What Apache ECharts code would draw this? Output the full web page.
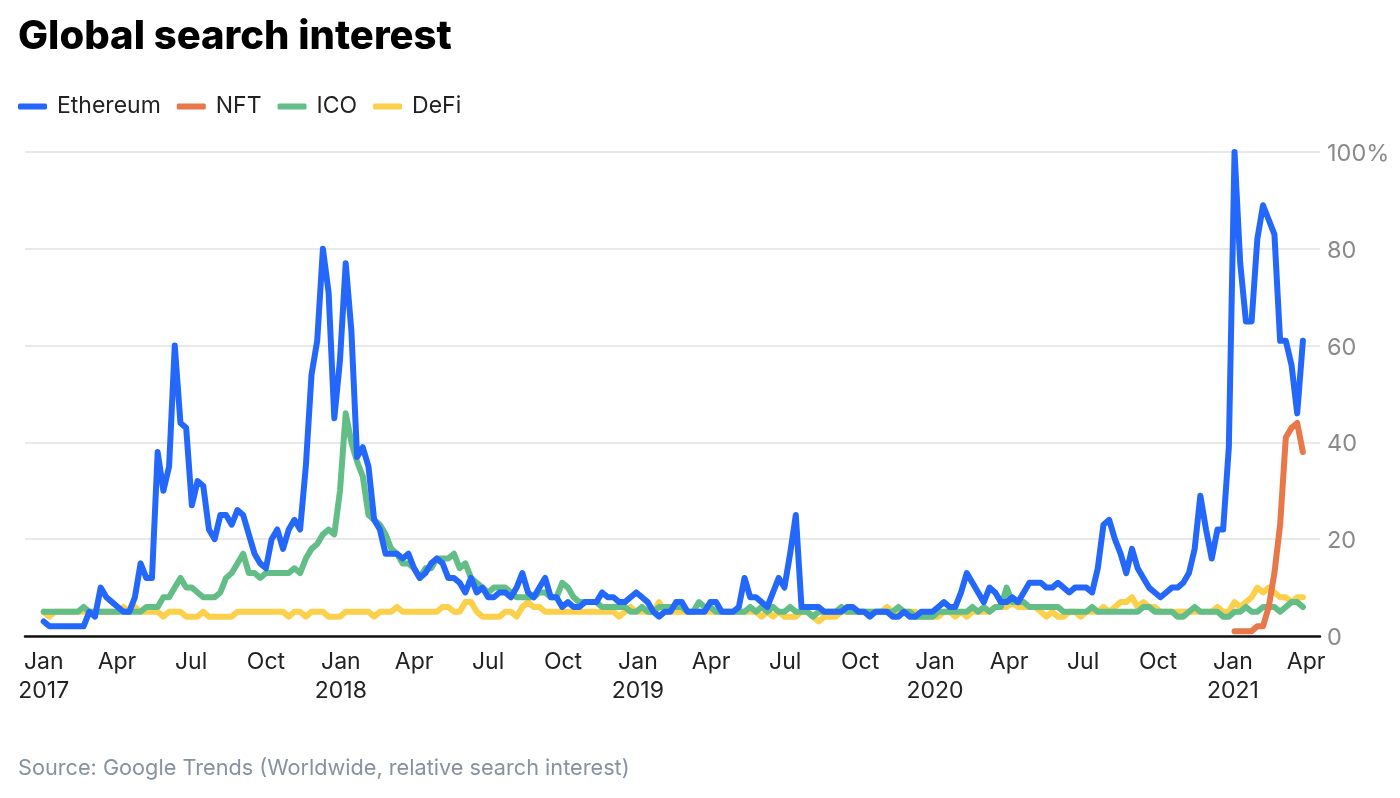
<!DOCTYPE html>
<html lang="en">
<head>
<meta charset="UTF-8">
<title>Global search interest</title>
<script src="https://cdn.jsdelivr.net/npm/echarts@6/dist/echarts.min.js"></script>
<style>
  html, body { margin: 0; padding: 0; background: #fff; }
  #main { width: 1400px; height: 798px; }
</style>
</head>
<body>
<div id="main"></div>
<script>
// weekly readings, first week starts 2017-01-01
var firstWeek = Date.UTC(2017, 0, 1);
var weekMs = 7 * 24 * 3600 * 1000;

var ethereum = [
  3,2,2,2,2,2,2,2,5,4,
  10,8,7,6,5,5,8,15,12,12,
  38,30,35,60,44,43,27,32,31,22,
  20,25,25,23,26,25,21,17,15,14,
  20,22,18,22,24,22,35,54,61,80,
  71,45,57,77,63,37,39,35,24,22,
  17,17,17,16,17,14,12,13,15,16,
  15,12,12,11,9,12,9,10,8,8,
  9,9,8,10,13,9,8,10,12,8,
  8,6,7,6,6,7,7,7,9,8,
  8,7,7,8,9,8,7,5,4,5,
  5,7,7,5,5,5,5,7,7,5,
  5,5,6,12,8,8,7,6,9,12,
  10,17,25,6,6,6,6,5,5,5,
  5,6,6,5,5,4,5,5,5,4,
  4,5,4,4,5,5,5,6,7,6,
  6,9,13,11,9,7,10,9,7,7,
  8,7,9,11,11,11,10,10,11,10,
  9,10,10,10,9,14,23,24,20,17,
  13,18,14,12,10,9,8,9,10,10,
  11,13,18,29,22,16,22,22,39,100,
  77,65,65,82,89,86,83,61,61,56,
  46,61
];
var ico = [
  5,5,5,5,5,5,5,6,5,5,
  5,5,5,5,5,5,5,5,6,6,
  6,8,8,10,12,10,10,9,8,8,
  8,9,12,13,15,17,13,13,12,13,
  13,13,13,13,14,13,16,18,19,21,
  22,21,30,46,40,36,33,25,24,23,
  21,18,17,15,15,14,12,14,14,16,
  16,16,17,14,15,12,11,10,9,10,
  10,10,9,8,8,8,8,9,9,8,
  8,11,10,8,7,7,7,7,6,6,
  6,6,6,5,5,6,5,5,6,6,
  6,6,6,5,5,7,6,6,5,5,
  5,5,5,5,6,5,6,5,6,5,
  5,6,5,5,5,4,5,5,5,5,
  6,5,5,5,5,5,5,5,5,5,
  6,5,5,4,4,4,4,5,5,5,
  5,5,5,6,5,6,5,6,6,10,
  7,7,7,6,6,6,6,6,6,5,
  5,5,5,5,6,5,5,5,5,5,
  5,5,5,6,6,5,5,5,5,4,
  4,5,6,5,5,5,5,4,4,5,
  5,6,5,5,6,6,6,5,6,7,
  7,6
];
var defi = [
  5,4,5,5,5,5,5,5,5,5,
  5,5,5,5,6,5,6,5,5,5,
  5,4,5,5,5,4,4,4,5,4,
  4,4,4,4,5,5,5,5,5,5,
  5,5,5,4,5,5,4,5,5,5,
  4,4,4,5,5,5,5,5,4,5,
  5,5,6,5,5,5,5,5,5,5,
  6,6,5,5,7,7,5,4,4,4,
  4,5,5,4,6,7,6,6,5,5,
  5,5,5,5,5,5,5,5,5,5,
  5,4,5,6,5,5,5,5,7,5,
  5,5,5,5,5,5,5,5,5,5,
  5,5,5,5,5,5,4,5,4,5,
  4,4,4,5,5,4,3,4,4,4,
  5,5,5,5,5,5,5,5,6,5,
  5,5,5,5,4,4,4,4,5,5,
  4,5,4,5,5,5,5,6,6,6,
  7,6,6,6,6,5,4,5,4,4,
  5,5,4,5,5,5,6,5,6,7,
  7,8,6,7,6,6,5,5,5,5,
  5,5,5,5,5,5,6,5,5,7,
  6,7,8,10,9,10,9,8,8,7,
  8,8
];
// NFT only has readings from week 209 on
var nftStart = 209;
var nft = [1,1,1,1,2,2,6,13,23,41,43,44,38];

var tickDates = [
  '2017-01-01','2017-04-01','2017-07-01','2017-10-01',
  '2018-01-01','2018-04-01','2018-07-01','2018-10-01',
  '2019-01-01','2019-04-01','2019-07-01','2019-10-01',
  '2020-01-01','2020-04-01','2020-07-01','2020-10-01',
  '2021-01-01','2021-04-01'
];
var tickLabels = [
  'Jan\n2017','Apr','Jul','Oct',
  'Jan\n2018','Apr','Jul','Oct',
  'Jan\n2019','Apr','Jul','Oct',
  'Jan\n2020','Apr','Jul','Oct',
  'Jan\n2021','Apr'
];
var tickTimes = tickDates.map(function (d) { return new Date(d + 'T00:00:00Z').getTime(); });

function toPoints(values, start) {
  return values.map(function (v, i) {
    return [firstWeek + (start + i) * weekMs, v];
  });
}

function lineSeries(name, color, values, start) {
  return {
    name: name,
    type: 'line',
    showSymbol: false,
    symbol: 'none',
    smooth: false,
    animation: false,
    itemStyle: { color: color },
    lineStyle: { color: color, width: 6, join: 'round', cap: 'round' },
    data: toPoints(values, start)
  };
}

var chart = echarts.init(document.getElementById('main'));
chart.setOption({
  animation: false,
  backgroundColor: '#fff',
  title: [
    {
      text: 'Global search interest',
      left: 18, top: 17,
      padding: 0,
      textStyle: { fontFamily: 'Inter', fontSize: 40, fontWeight: 800, color: '#000' }
    },
    {
      text: 'Source: Google Trends (Worldwide, relative search interest)',
      left: 18, top: 757,
      padding: 0,
      textStyle: { fontFamily: 'Inter', fontSize: 21.7, fontWeight: 400, color: '#87929e' }
    }
  ],
  legend: {
    left: 18, top: 95,
    padding: 0,
    icon: 'roundRect',
    itemWidth: 29,
    itemHeight: 6,
    itemGap: 16,
    data: ['Ethereum', 'NFT', 'ICO', 'DeFi'],
    textStyle: { fontFamily: 'Inter', fontSize: 23, color: '#222', padding: [0, 0, 0, 5] }
  },
  grid: { left: 25, right: 80, top: 152, height: 484 },
  // dates kept as plain timestamps so the month labels can sit on their exact days
  xAxis: {
    type: 'value',
    min: Date.UTC(2016, 11, 9),
    max: Date.UTC(2021, 3, 18),
    splitLine: { show: false },
    axisTick: { show: false },
    axisLine: { show: true, onZero: false, lineStyle: { color: '#111', width: 2.5 } },
    axisLabel: {
      customValues: tickTimes,
      hideOverlap: false,
      margin: 12,
      fontFamily: 'Inter',
      fontSize: 23,
      lineHeight: 29,
      color: '#222',
      formatter: function (value) {
        return tickLabels[tickTimes.indexOf(value)];
      }
    }
  },
  yAxis: {
    type: 'value',
    position: 'right',
    min: 0,
    max: 100,
    interval: 20,
    axisLine: { show: false },
    axisTick: { show: false },
    splitLine: { lineStyle: { color: '#e9e9e9', width: 2 } },
    axisLabel: {
      margin: 7,
      fontFamily: 'Inter',
      fontSize: 23.5,
      color: '#8a8a8a',
      verticalAlign: 'top',
      lineHeight: 4,
      formatter: function (v) { return v === 100 ? '100%' : String(v); }
    }
  },
  series: [
    lineSeries('DeFi', '#fdd04b', defi, 0),
    lineSeries('ICO', '#62bd87', ico, 0),
    lineSeries('NFT', '#e8774a', nft, nftStart),
    lineSeries('Ethereum', '#2468fb', ethereum, 0)
  ]
});
</script>
</body>
</html>
